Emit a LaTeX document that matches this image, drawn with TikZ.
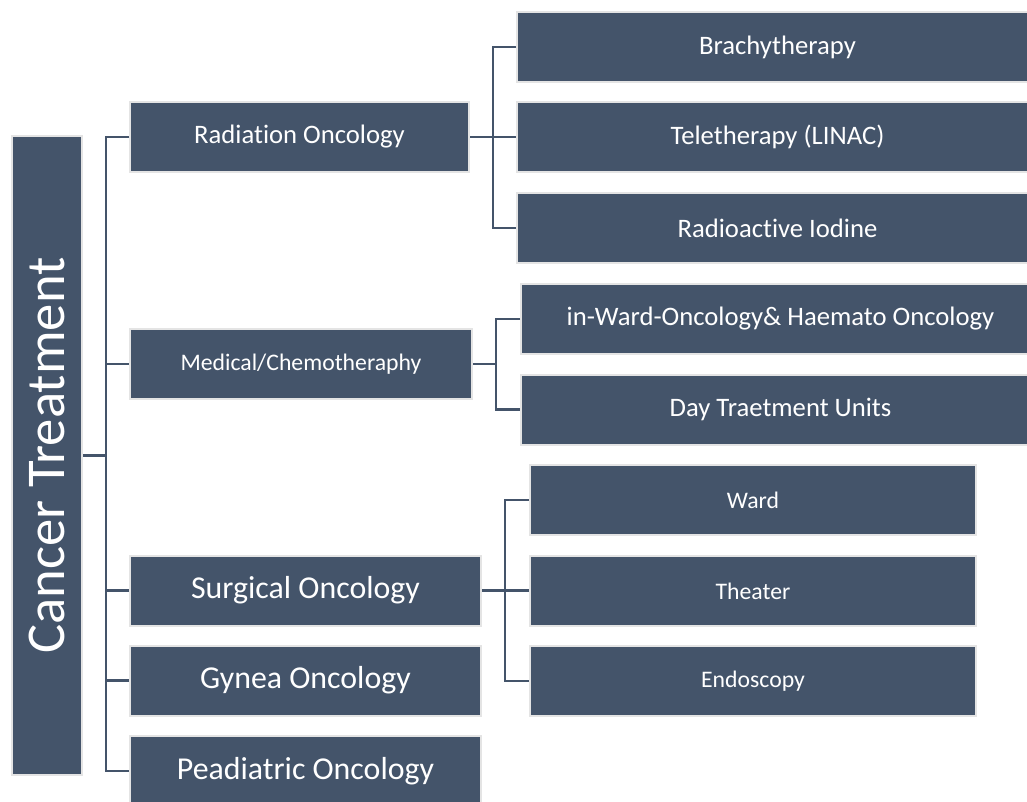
\documentclass[tikz,border=0pt]{standalone}
\usepackage{fontspec}
\setmainfont{Carlito}[Ligatures=NoCommon]
\usepackage{tikz}
\definecolor{slateblue}{RGB}{68,84,106}
\definecolor{rimgrey}{RGB}{228,228,228}

\begin{document}
\begin{tikzpicture}[x=0.75pt,y=0.75pt,yscale=-1,xscale=1,
  unitbox/.style={fill=slateblue, draw=rimgrey, line width=1.5pt, text=white, inner sep=0pt, minimum height=52.5pt},
  link/.style={draw=slateblue, line width=1.6pt}]
\useasboundingbox (0,0) rectangle (1027,801);

%Shape: Rectangle [root]
\node [unitbox, rotate=90, minimum width=479pt, font=\fontsize{41}{49}\selectfont] (cancer) at (47,455.5) {Cancer Treatment};

%Shape: Rectangle [first level]
\node [unitbox, minimum width=254.25pt, font=\fontsize{20}{24}\selectfont] (rad) at (299.5,137) {Radiation Oncology};
\node [unitbox, minimum width=256.5pt, font=\fontsize{17.8}{21}\selectfont] (med) at (301,364) {Medical/Chemotheraphy};
\node [unitbox, minimum width=263.25pt, font=\fontsize{23.9}{28}\selectfont] (sur) at (305.5,590.5) {Surgical Oncology};
\node [unitbox, minimum width=263.25pt, font=\fontsize{23.9}{28}\selectfont] (gyn) at (305.5,680.5) {Gynea Oncology};
\node [unitbox, minimum width=263.25pt, font=\fontsize{23.9}{28}\selectfont] (ped) at (305.5,771) {Peadiatric Oncology};

%Shape: Rectangle [second level]
\node [unitbox, minimum width=390.75pt, font=\fontsize{20}{24}\selectfont] (brachy) at (777.5,47) {Brachytherapy};
\node [unitbox, minimum width=390.75pt, font=\fontsize{20}{24}\selectfont] (tele) at (777.5,137) {Teletherapy (LINAC)};
\node [unitbox, minimum width=390.75pt, font=\fontsize{20}{24}\selectfont] (iodine) at (777.5,228) {Radioactive Iodine};
\node [unitbox, minimum width=389.25pt, font=\fontsize{20}{24}\selectfont] (inward) at (780.5,319) {in-Ward-Oncology\& Haemato Oncology};
\node [unitbox, minimum width=389.25pt, font=\fontsize{20}{24}\selectfont] (day) at (780.5,409.5) {Day Traetment Units};
\node [unitbox, minimum width=334.5pt, font=\fontsize{17.8}{21}\selectfont] (ward) at (753,500) {Ward};
\node [unitbox, minimum width=334.5pt, font=\fontsize{17.8}{21}\selectfont] (theater) at (753,591) {Theater};
\node [unitbox, minimum width=334.5pt, font=\fontsize{17.8}{21}\selectfont] (endo) at (753,681) {Endoscopy};

%Straight Lines [root bus]
\coordinate (trunk) at (106,455.5);
\draw [link] (cancer.south) -- (trunk);
\draw [link] (rad.west) -- (rad.west -| trunk) -- (ped.west -| trunk) -- (ped.west);
\draw [link] (med.west -| trunk) -- (med.west);
\draw [link] (sur.west -| trunk) -- (sur.west);
\draw [link] (gyn.west -| trunk) -- (gyn.west);

%Straight Lines [radiation bus]
\coordinate (radbus) at (493,137);
\draw [link] (rad.east) -- (tele.west);
\draw [link] (brachy.west) -- (brachy.west -| radbus) -- (iodine.west -| radbus) -- (iodine.west);

%Straight Lines [medical bus]
\coordinate (medbus) at (496,364);
\draw [link] (med.east) -- (medbus);
\draw [link] (inward.west) -- (inward.west -| medbus) -- (day.west -| medbus) -- (day.west);

%Straight Lines [surgical bus]
\coordinate (surbus) at (505,590.5);
\draw [link] (sur.east) -- (theater.west |- surbus);
\draw [link] (ward.west) -- (ward.west -| surbus) -- (endo.west -| surbus) -- (endo.west);

\end{tikzpicture}
\end{document}
